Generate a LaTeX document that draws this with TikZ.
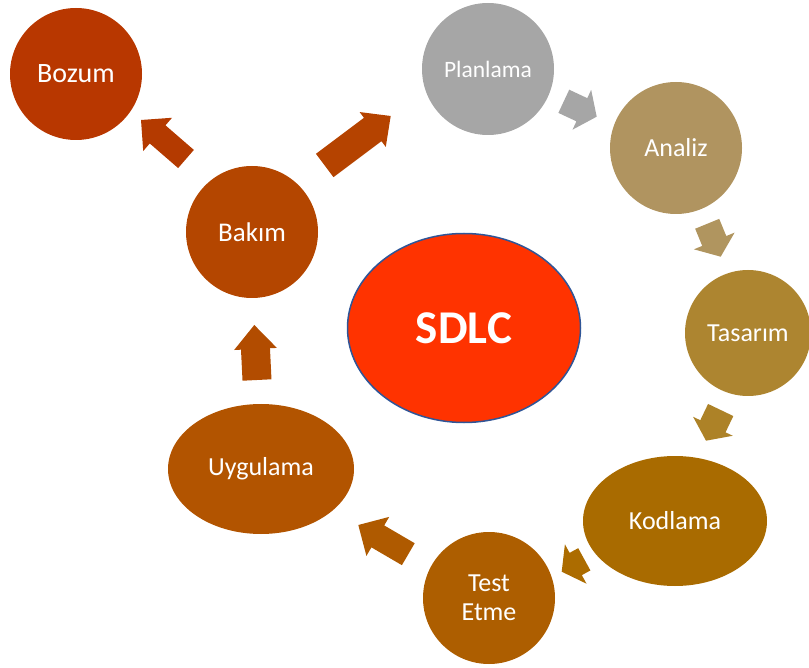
\documentclass[tikz,border=0pt]{standalone}
\usepackage{fontspec}
\setmainfont{Carlito}
\usetikzlibrary{calc,shapes.geometric}
\definecolor{cBozum}{RGB}{184,55,0}
\definecolor{cBakim}{RGB}{180,70,0}
\definecolor{cPlan}{RGB}{166,166,166}
\definecolor{cAnaliz}{RGB}{176,148,96}
\definecolor{cTasarim}{RGB}{173,133,48}
\definecolor{cKod}{RGB}{169,107,0}
\definecolor{cTest}{RGB}{173,94,0}
\definecolor{cUyg}{RGB}{178,84,0}
\definecolor{cSdlc}{RGB}{255,51,0}
\definecolor{cSdlcB}{RGB}{47,85,151}
\definecolor{aOne}{RGB}{180,58,0}
\definecolor{aTwo}{RGB}{181,67,0}
\definecolor{aThree}{RGB}{166,166,166}
\definecolor{aFour}{RGB}{176,149,95}
\definecolor{aFive}{RGB}{173,130,39}
\definecolor{aSix}{RGB}{172,108,0}
\definecolor{aSeven}{RGB}{175,90,0}
\definecolor{aEight}{RGB}{178,76,0}
% #1 colour, #2 tail, #3 tip, #4 half shaft width, #5 half head width, #6 head length
\newcommand\blockarr[6]{%
  \fill[#1] ($(#2)!#4!90:(#3)$) -- ($(#3)!#6!(#2)!#4!90:(#3)$) -- ($(#3)!#6!(#2)!#5!90:(#3)$) -- (#3)
    -- ($(#3)!#6!(#2)!#5!-90:(#3)$) -- ($(#3)!#6!(#2)!#4!-90:(#3)$) -- ($(#2)!#4!-90:(#3)$) -- cycle;}
\begin{document}
\begin{tikzpicture}[x=1pt,y=-1pt,
  phase/.style={circle, minimum size=132pt, inner sep=0pt, text=white, align=center, font=\fontsize{26}{29}\selectfont},
  ephase/.style={ellipse, inner sep=0pt, text=white, align=center, font=\fontsize{26}{29}\selectfont}]
\useasboundingbox (0,0) rectangle (809,668);
% phases
\node[phase, fill=cBozum, font=\fontsize{28}{30}\selectfont] (bozum) at (76,74) {Bozum};
\node[phase, fill=cPlan, font=\fontsize{23.5}{26}\selectfont] (planlama) at (488,69) {Planlama};
\node[phase, fill=cAnaliz] (analiz) at (676,148) {Analiz};
\node[phase, fill=cTasarim, minimum size=126pt] (tasarim) at (748,333) {Tasarım};
\node[ephase, fill=cKod, minimum width=184pt, minimum height=130pt] (kodlama) at (675,521) {Kodlama};
\node[phase, fill=cTest] (test) at (489,598) {Test\\Etme};
\node[ephase, fill=cUyg, minimum width=186pt, minimum height=130pt] (uygulama) at (261,469) {Uygulama};
\node[phase, fill=cBakim, font=\fontsize{27}{29}\selectfont] (bakim) at (252,232) {Bakım};
\node[ellipse, fill=cSdlc, draw=cSdlcB, line width=1.5pt, minimum width=233pt, minimum height=189pt,
  inner sep=0pt, text=white, font=\bfseries\fontsize{47}{50}\selectfont] (sdlc) at (464,328) {SDLC};
% arrow ends
\coordinate (a1s) at ([shift={(-66,-73)}]bakim.center);
\coordinate (a1e) at ([shift={(65,46)}]bozum.center);
\coordinate (a2s) at ([shift={(72.7,-66.5)}]bakim.center);
\coordinate (a2e) at ([shift={(-97.3,47)}]planlama.center);
\coordinate (a3s) at ([shift={(75.8,32.3)}]planlama.center);
\coordinate (a3e) at ([shift={(-79.3,-31.3)}]analiz.center);
\coordinate (a4s) at ([shift={(31.2,75.8)}]analiz.center);
\coordinate (a4e) at ([shift={(-27.3,-76.3)}]tasarim.center);
\coordinate (a5s) at ([shift={(-27.3,77)}]tasarim.center);
\coordinate (a5e) at ([shift={(31,-80.3)}]kodlama.center);
\coordinate (a6s) at ([shift={(-90.7,38.3)}]kodlama.center);
\coordinate (a6e) at ([shift={(72.7,-26.3)}]test.center);
\coordinate (a7s) at ([shift={(-80.7,-43.8)}]test.center);
\coordinate (a7e) at ([shift={(97.3,56)}]uygulama.center);
\coordinate (a8s) at ([shift={(-4,-89)}]uygulama.center);
\coordinate (a8e) at ([shift={(2.3,93)}]bakim.center);
% block arrows
\blockarr{aOne}{a1s}{a1e}{12pt}{22pt}{22pt}
\blockarr{aTwo}{a2s}{a2e}{14.6pt}{21.8pt}{22.5pt}
\blockarr{aThree}{a3s}{a3e}{12.8pt}{22pt}{16.4pt}
\blockarr{aFour}{a4s}{a4e}{13pt}{22pt}{17pt}
\blockarr{aFive}{a5s}{a5e}{14pt}{22pt}{16pt}
\blockarr{aSix}{a6s}{a6e}{12.7pt}{22.5pt}{16pt}
\blockarr{aSeven}{a7s}{a7e}{12.7pt}{22.6pt}{22.6pt}
\blockarr{aEight}{a8s}{a8e}{14.5pt}{21.4pt}{24pt}
\end{tikzpicture}
\end{document}
